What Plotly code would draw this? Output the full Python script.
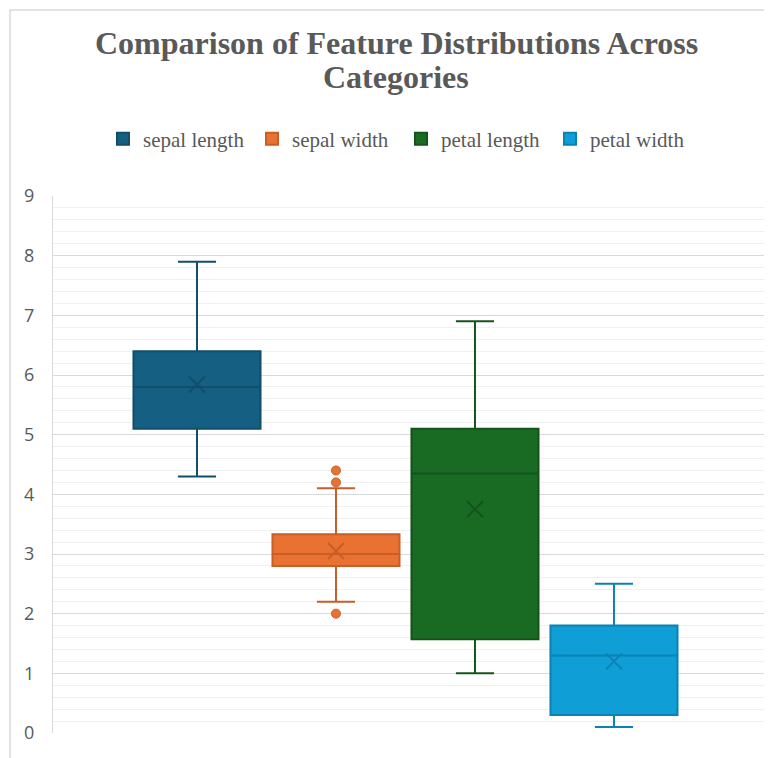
import plotly.graph_objects as go

# ---- data (iris feature summary) ----
features = ["sepal length", "sepal width", "petal length", "petal width"]
positions = [1, 2, 3, 4]
q1 = [5.1, 2.8, 1.57, 0.3]
median = [5.8, 3.0, 4.35, 1.3]
q3 = [6.4, 3.33, 5.1, 1.8]
lower_whisker = [4.3, 2.2, 1.0, 0.1]
upper_whisker = [7.9, 4.1, 6.9, 2.5]
means = [5.84, 3.05, 3.75, 1.2]
outlier_feature = ["sepal width", "sepal width", "sepal width"]
outlier_values = [4.4, 4.2, 2.0]

fill_colors = ["#156082", "#E97132", "#196B24", "#0F9ED5"]
line_colors = ["#114e6a", "#c75e28", "#13541c", "#0b82b1"]

# ---- layout geometry (pixels, figure coordinates; page has 8px body margin) ----
W, H = 764, 750
L, R, T, B = 45, 0, 188, 25
PW, PH = W - L - R, H - T - B


def px_x(px):
    return (px - L) / PW


def px_y(py):
    return (H - B - py) / PH


fig = go.Figure()

for i, name in enumerate(features):
    fig.add_trace(go.Box(
        name=name,
        x=[positions[i]],
        q1=[q1[i]], median=[median[i]], q3=[q3[i]],
        lowerfence=[lower_whisker[i]], upperfence=[upper_whisker[i]],
        fillcolor=fill_colors[i],
        line=dict(color=line_colors[i], width=2),
        width=0.914,
        whiskerwidth=0.3,
        boxpoints=False,
        hoverinfo="skip",
        showlegend=True,
    ))

# mean markers
fig.add_trace(go.Scatter(
    x=positions, y=means, mode="markers",
    marker=dict(symbol="x-thin-open", size=16,
                line=dict(color=line_colors, width=2), color=line_colors),
    showlegend=False, hoverinfo="skip",
))

# outliers
ox = [positions[features.index(f)] for f in outlier_feature]
oc = [fill_colors[features.index(f)] for f in outlier_feature]
olc = [line_colors[features.index(f)] for f in outlier_feature]
fig.add_trace(go.Scatter(
    x=ox, y=outlier_values, mode="markers",
    marker=dict(symbol="circle", size=9, color=oc, line=dict(color=olc, width=1)),
    showlegend=False, hoverinfo="skip",
))

title_font = dict(family="Liberation Serif", size=32, color="#595959")
fig.add_annotation(text="<b>Comparison of Feature Distributions Across</b>",
                   xref="paper", yref="paper", x=px_x(388), y=px_y(34.5),
                   xanchor="center", yanchor="middle", showarrow=False, font=title_font)
fig.add_annotation(text="<b>Categories</b>",
                   xref="paper", yref="paper", x=px_x(388), y=px_y(68.5),
                   xanchor="center", yanchor="middle", showarrow=False, font=title_font)

# chart border
fig.add_shape(type="rect", xref="paper", yref="paper",
              x0=px_x(2), x1=px_x(W + 20), y0=px_y(H + 20), y1=px_y(2),
              line=dict(color="#d9d9d9", width=1.5), fillcolor="rgba(0,0,0,0)", layer="below")

fig.update_layout(
    width=W, height=H,
    margin=dict(l=L, r=R, t=T, b=B),
    paper_bgcolor="white", plot_bgcolor="white",
    boxmode="overlay",
    showlegend=True,
    legend=dict(orientation="h", x=px_x(95), y=px_y(131),
                xanchor="left", yanchor="middle",
                entrywidth=104, entrywidthmode="pixels",
                font=dict(family="Liberation Serif", size=21, color="#595959"),
                itemclick=False, itemdoubleclick=False),
    xaxis=dict(range=[-0.036, 5.137], showgrid=False, zeroline=False,
               showticklabels=False, ticks="", showline=False),
    yaxis=dict(range=[0, 9], dtick=1, tick0=0, showgrid=True, gridcolor="#d9d9d9",
               gridwidth=1, zeroline=False, showline=True, linecolor="#d9d9d9", linewidth=1,
               ticks="", ticklabelstandoff=14,
               tickfont=dict(family="Open Sans", size=18, color="#595959"),
               minor=dict(dtick=0.2, showgrid=True, gridcolor="#f0f0f0", gridwidth=1)),
)

fig.write_html("out.html")
